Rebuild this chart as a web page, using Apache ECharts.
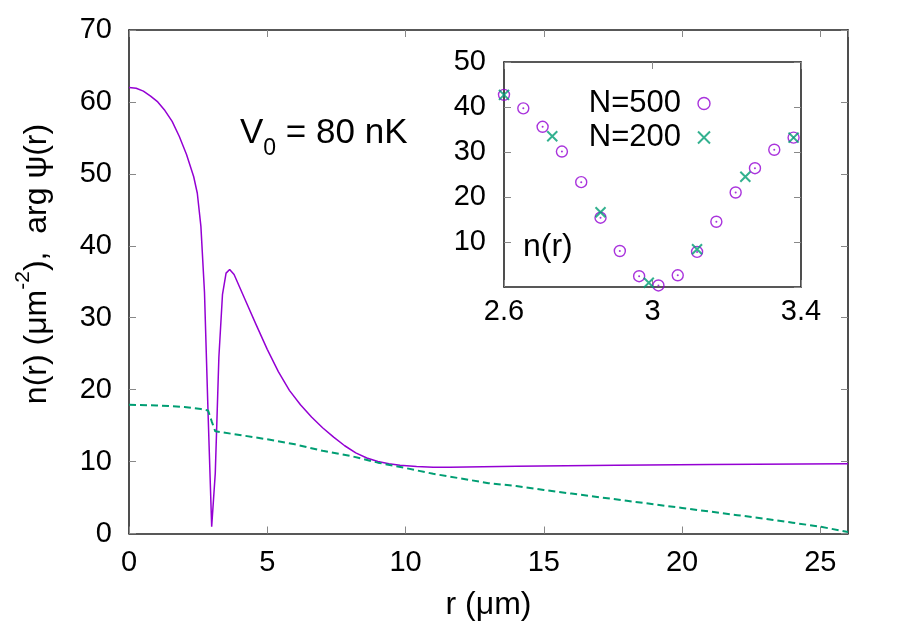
<!DOCTYPE html>
<html>
<head>
<meta charset="utf-8">
<script src="https://cdn.jsdelivr.net/npm/echarts@6/dist/echarts.min.js"></script>
<style>
  html, body { margin: 0; padding: 0; background: #fff; }
  #chart { width: 900px; height: 630px; }
</style>
</head>
<body>
<div id="chart"></div>
<script>
// main panel: density n(r) (solid) and phase arg psi(r) (dashed)
const rDens = [0, 0.26, 0.52, 0.78, 1.04, 1.3, 1.56, 1.82, 2.08, 2.34, 2.47, 2.6, 2.73, 2.86, 2.99, 3.12, 3.25, 3.38, 3.51, 3.64, 3.8,
  4.2, 4.6, 5.0, 5.4, 5.8, 6.2, 6.6, 7.0, 7.4, 7.8, 8.2, 8.6, 9.0, 9.4, 9.8, 10.4, 11, 11.6, 14, 17.6, 21, 26];
const dens = [62.0, 61.9, 61.5, 60.8, 60.0, 58.8, 57.3, 55.2, 52.7, 49.6, 47.3, 42.7, 33.5, 16.6, 0.93, 8.4, 24.5, 33.2, 36.2, 36.7, 36.0,
  32.5, 29.0, 25.6, 22.5, 19.9, 17.9, 16.2, 14.7, 13.4, 12.2, 11.2, 10.5, 10.0, 9.7, 9.5, 9.3, 9.22, 9.2, 9.35, 9.5, 9.6, 9.7];
const rPhase = [0, 1, 2, 2.6, 2.86, 2.99, 3.12, 4, 5, 6, 7, 8, 9, 10, 11, 12, 13, 14, 15, 16, 17, 18, 19, 20, 21, 22, 23, 24, 25, 26];
const phase = [17.9, 17.8, 17.6, 17.3, 17.1, 15.6, 14.2, 13.7, 13.1, 12.4, 11.5, 10.8, 9.85, 9.1, 8.3, 7.65, 7.0, 6.6, 6.05, 5.55,
  5.05, 4.55, 4.05, 3.55, 3.05, 2.55, 2.05, 1.5, 0.95, 0.2];

// inset: n(r) around the node for two grid sizes
const r500 = [2.6, 2.652, 2.704, 2.756, 2.808, 2.86, 2.912, 2.964, 3.016, 3.068, 3.12, 3.172, 3.224, 3.276, 3.328, 3.38];
const n500 = [42.7, 39.7, 35.6, 30.1, 23.3, 15.4, 8.0, 2.4, 0.34, 2.6, 7.8, 14.5, 21.0, 26.4, 30.5, 33.2];
const r200 = [2.6, 2.73, 2.86, 2.99, 3.12, 3.25, 3.38];
const n200 = [42.7, 33.5, 16.6, 0.93, 8.4, 24.5, 33.2];
const insetXTicks = [2.6, 3, 3.4];

const FONT = 'Liberation Sans';
const PURPLE = '#9400d3';
const GREEN = '#009e73';
const crossPath = 'path://M0,0L10,10M10,0L0,10';

function frameAxis(extra) {
  return Object.assign({
    type: 'value',
    axisLine: { show: true, onZero: false, lineStyle: { color: '#222', width: 1.6 } },
    axisTick: { show: true, inside: true, length: 7, lineStyle: { color: '#888', width: 1 } },
    axisLabel: { show: false },
    splitLine: { show: false }
  }, extra);
}
const tickLabel = (margin) => ({ show: true, fontSize: 29, color: '#000', fontFamily: FONT, margin: margin });

const pairs = (xs, ys) => xs.map((x, i) => [x, ys[i]]);

const chart = echarts.init(document.getElementById('chart'));
chart.setOption({
  backgroundColor: '#fff',
  animation: false,
  grid: [
    { left: 129, top: 30, width: 719, height: 503.5 },
    { left: 504, top: 62, width: 297, height: 225 }
  ],
  xAxis: [
    frameAxis({ gridIndex: 0, position: 'bottom', min: 0, max: 26, interval: 5,
      axisLabel: Object.assign(tickLabel(15), { showMaxLabel: false }),
      name: 'r (μm)', nameLocation: 'middle', nameGap: 56,
      nameTextStyle: { fontSize: 32, color: '#000', fontFamily: FONT } }),
    frameAxis({ gridIndex: 0, position: 'top', min: 0, max: 26, interval: 5 }),
    frameAxis({ gridIndex: 1, position: 'bottom', min: 2.6, max: 3.4,
      axisTick: { show: true, inside: true, length: 7, customValues: insetXTicks, lineStyle: { color: '#888' } },
      axisLabel: Object.assign(tickLabel(10), { customValues: insetXTicks }) }),
    frameAxis({ gridIndex: 1, position: 'top', min: 2.6, max: 3.4,
      axisTick: { show: true, inside: true, length: 7, customValues: insetXTicks, lineStyle: { color: '#888' } } })
  ],
  yAxis: [
    frameAxis({ gridIndex: 0, position: 'left', min: 0, max: 70, interval: 10, axisLabel: tickLabel(17) }),
    frameAxis({ gridIndex: 0, position: 'right', min: 0, max: 70, interval: 10 }),
    frameAxis({ gridIndex: 1, position: 'left', min: 0, max: 50, interval: 10,
      axisLabel: Object.assign(tickLabel(18), { showMinLabel: false }) }),
    frameAxis({ gridIndex: 1, position: 'right', min: 0, max: 50, interval: 10 })
  ],
  legend: {
    orient: 'vertical', align: 'right', right: 184, top: 83,
    itemWidth: 12, itemHeight: 12, itemGap: 3,
    textStyle: { fontSize: 31, color: '#000', fontFamily: FONT, padding: [0, 12, 0, 0] },
    data: [
      { name: 'N=500', icon: 'circle', itemStyle: { color: '#fff', borderColor: PURPLE, borderWidth: 1.4 } },
      { name: 'N=200', icon: crossPath, itemStyle: { color: 'transparent', borderColor: GREEN, borderWidth: 2 } }
    ]
  },
  series: [
    { name: 'n', type: 'line', xAxisIndex: 0, yAxisIndex: 0, data: pairs(rDens, dens),
      showSymbol: false, lineStyle: { color: PURPLE, width: 1.5 }, silent: true },
    { name: 'arg', type: 'line', xAxisIndex: 0, yAxisIndex: 0, data: pairs(rPhase, phase),
      showSymbol: false, lineStyle: { color: GREEN, width: 2, type: [7, 4] }, silent: true },
    { name: 'N=500', type: 'scatter', xAxisIndex: 2, yAxisIndex: 2, data: pairs(r500, n500),
      symbol: 'circle', symbolSize: 11, itemStyle: { color: 'transparent', borderColor: PURPLE, borderWidth: 1.4 } },
    { name: 'N=500 dot', type: 'scatter', xAxisIndex: 2, yAxisIndex: 2, data: pairs(r500, n500),
      symbol: 'circle', symbolSize: 2, itemStyle: { color: PURPLE } },
    { name: 'N=200', type: 'scatter', xAxisIndex: 2, yAxisIndex: 2, data: pairs(r200, n200),
      symbol: crossPath, symbolSize: 10, itemStyle: { color: 'transparent', borderColor: GREEN, borderWidth: 2 } }
  ],
  graphic: [
    { type: 'text', x: 37, y: 264, rotation: Math.PI / 2,
      style: { text: '{a|n(r) (μm}{s|-2}{a|),  arg ψ(r)}', align: 'center', verticalAlign: 'middle',
        rich: {
          a: { fontSize: 32, fontFamily: FONT, fill: '#000', lineHeight: 48 },
          s: { fontSize: 21, fontFamily: FONT, fill: '#000', lineHeight: 20, verticalAlign: 'top' }
        } } },
    { type: 'text', x: 240, y: 133,
      style: { text: '{a|V}{s|0}{a| = 80 nK}', align: 'left', verticalAlign: 'middle',
        rich: {
          a: { fontSize: 35, fontFamily: FONT, fill: '#000', lineHeight: 54 },
          s: { fontSize: 23, fontFamily: FONT, fill: '#000', lineHeight: 23, verticalAlign: 'bottom' }
        } } },
    { type: 'text', x: 523, y: 247,
      style: { text: 'n(r)', fontSize: 32, fontFamily: FONT, fill: '#000', align: 'left', verticalAlign: 'middle' } }
  ]
});
</script>
</body>
</html>
